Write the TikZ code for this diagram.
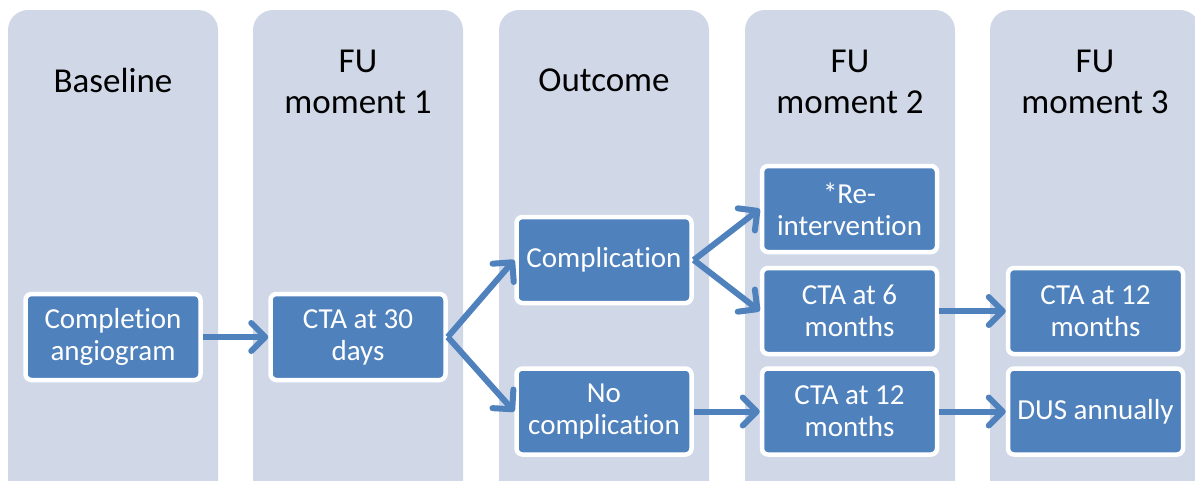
\documentclass[tikz,border=0pt]{standalone}
\usepackage{fontspec}
\setmainfont{Carlito}[Ligatures={NoCommon,NoContextual,NoRequired}]
\newcommand{\nlg}{\kern0pt{}}
\usetikzlibrary{arrows.meta}
\definecolor{colbg}{RGB}{208,216,232}
\definecolor{boxblue}{RGB}{79,129,189}
\begin{document}
\begin{tikzpicture}[x=1pt,y=-1pt,
  colpanel/.style={fill=colbg, rounded corners=20pt},
  header/.style={text=black, align=center, font=\fontsize{35}{41}\selectfont, inner sep=0pt},
  stepbox/.style={fill=boxblue, draw=white, line width=4.5pt, rounded corners=6pt,
     minimum width=175pt, minimum height=86pt, text=white, align=center,
     font=\fontsize{29}{32}\selectfont, inner sep=2pt},
  conn/.style={draw=boxblue, line width=6pt, -{Straight Barb[length=14pt,width=28pt,line width=6pt,round]}}]
\useasboundingbox (0,0) rectangle (1195,480);
\clip (0,0) rectangle (1195,480);
% column panels
\fill[colpanel] (8,10) rectangle (218,530);
\fill[colpanel] (253,10) rectangle (463,530);
\fill[colpanel] (499,10) rectangle (709,530);
\fill[colpanel] (745,10) rectangle (955,530);
\fill[colpanel] (990,10) rectangle (1200,530);
% headers
\node[header] (h1) at (113,80) {Baseline};
\node[header] (h2) at (358,82) {FU\\moment 1};
\node[header] (h3) at (604,80) {Outcome};
\node[header] (h4) at (850,82) {FU\\moment 2};
\node[header] (h5) at (1095,82) {FU\\moment 3};
% boxes
\node[stepbox] (comp)   at (113,337)    {Complet\nlg ion\\angiogram};
\node[stepbox] (cta30)  at (358,337)    {CTA at 30\\days};
\node[stepbox] (cmpl)   at (604,260)    {Complicat\nlg ion};
\node[stepbox] (nocmpl) at (604,411.5)  {No\\complicat\nlg ion};
\node[stepbox] (reint)  at (849.5,209)  {*Re-\\intervent\nlg ion};
\node[stepbox] (cta6)   at (849.5,311)  {CTA at 6\\months};
\node[stepbox] (cta12a) at (849.5,411.5){CTA at 12\\months};
\node[stepbox] (cta12b) at (1095.5,311) {CTA at 12\\months};
\node[stepbox] (dus)    at (1095.5,411.5){DUS annually};
% connectors
\draw[conn] (comp.east) -- (cta30.west);
\draw[conn] (cta30.east) -- (cmpl.west);
\draw[conn] (cta30.east) -- (nocmpl.west);
\draw[conn] (cmpl.east) -- (reint.west);
\draw[conn] (cmpl.east) -- (cta6.west);
\draw[conn] (nocmpl.east) -- (cta12a.west);
\draw[conn] (cta6.east) -- (cta12b.west);
\draw[conn] (cta12a.east) -- (dus.west);
\end{tikzpicture}
\end{document}
